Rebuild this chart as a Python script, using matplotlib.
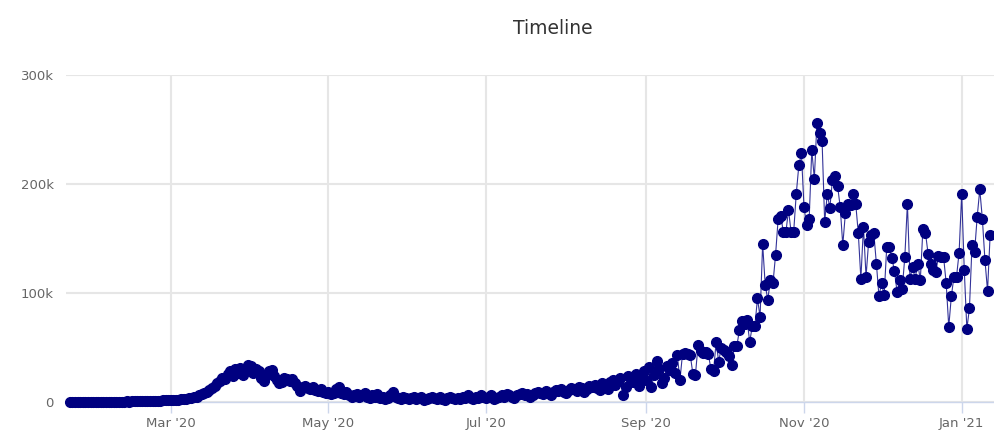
import matplotlib
matplotlib.use("Agg")
import matplotlib.pyplot as plt
import matplotlib.dates as mdates
import matplotlib.ticker as mticker
import numpy as np
import pandas as pd

# daily values in thousands
jan20 = [0.0, 0.0, 0.1, 0.0, 0.1, 0.1, 0.0, 0.1, 0.1, 0.2]
feb20 = [0.1, 0.2, 0.2, 0.1, 0.3, 0.2, 0.3, 0.2, 0.3, 0.4, 0.3, 0.4, 0.5, 0.4, 0.5,
         0.6, 0.5, 0.6, 0.7, 0.6, 0.8, 0.9, 1.0, 1.1, 1.2, 1.3, 1.5, 1.4, 1.6]
mar20 = [1.5, 1.8, 2.0, 2.2, 2.4, 2.8, 3.1, 3.5, 4.0, 4.5, 5, 6, 7, 8, 9, 11, 13, 15,
         17, 19, 22, 21, 26, 28, 24, 30, 27, 31, 25, 29, 34]
apr20 = [33, 27, 30, 28, 22, 19, 25, 28, 29, 24, 20, 17, 18, 22, 21, 19, 21, 17, 15, 10,
         14, 15, 13, 12, 14, 11, 10, 12, 9, 8]
may20 = [9, 7, 8, 12, 14, 8, 7, 9, 6, 5, 6, 7, 5, 6, 8, 5, 4, 6, 5, 7, 4, 5, 3, 4, 6, 9,
         5, 4, 3, 5, 4]
jun20 = [3, 4, 5, 3, 4, 5, 2, 3, 4, 5, 4, 3, 5, 3, 2, 4, 5, 4, 3, 4, 3, 5, 4, 6, 4, 3,
         5, 4, 6, 5]
jul20 = [4, 5, 6, 3, 4, 5, 6, 5, 7, 6, 5, 4, 6, 7, 8, 6, 7, 5, 6, 8, 9, 8, 7, 10, 8, 6,
         9, 11, 10, 12, 9]
aug20 = [8, 11, 13, 12, 10, 14, 13, 9, 12, 15, 14, 16, 13, 11, 17, 15, 12, 18, 20, 16,
         19, 22, 6, 14, 24, 21, 18, 26, 15, 23, 28]
sep20 = [20, 32, 14, 25, 38, 30, 17, 22, 33, 29, 36, 27, 43, 20, 44, 45, 44, 43, 26, 25,
         52, 47, 45, 46, 44, 30, 28, 55, 37, 50]
oct20 = [48, 46, 42, 34, 51, 51, 66, 74, 72, 75, 55, 70, 70, 95, 78, 145, 107, 94, 112,
         109, 135, 168, 171, 156, 156, 176, 156, 156, 191, 217, 228]
nov20 = [179, 162, 168, 231, 205, 256, 247, 239, 165, 191, 178, 204, 207, 198, 179, 144,
         173, 182, 181, 191, 182, 155, 113, 161, 115, 147, 153, 155, 127, 97]
dec20 = [109, 98, 142, 142, 132, 120, 101, 112, 104, 133, 182, 113, 124, 113, 127, 112,
         159, 155, 136, 127, 121, 119, 134, 133, 133, 109, 69, 97, 115, 115, 137]
jan21 = [191, 121, 67, 86, 144, 138, 170, 195, 168, 130, 102, 153]

values = np.array(jan20 + feb20 + mar20 + apr20 + may20 + jun20 + jul20 + aug20
                  + sep20 + oct20 + nov20 + dec20 + jan21) * 1000
dates = pd.date_range("2020-01-22", periods=len(values), freq="D")

tick_dates = pd.to_datetime(["2020-03-01", "2020-05-01", "2020-07-01",
                             "2020-09-01", "2020-11-01", "2021-01-01"])
tick_labels = ["Mar '20", "May '20", "Jul '20", "Sep '20", "Nov '20", "Jan '21"]
y_ticks = [0, 100000, 200000, 300000]

fig = plt.figure(figsize=(9.94, 4.32), dpi=100)
ax = fig.add_axes([66 / 994, 1 - 402 / 432, 928 / 994, 327 / 432])

ax.plot(dates, values, color="#000080", lw=0.8, alpha=0.8, zorder=3)
ax.plot(dates, values, ls="none", marker="o", ms=7, color="#000080", zorder=4,
        clip_on=False)

ax.set_ylim(0, 300000)
ax.set_xlim(dates[0] - pd.Timedelta(days=1.5), dates[-1] + pd.Timedelta(days=1.5))

ax.set_xticks(tick_dates)
ax.set_xticklabels(tick_labels)
ax.set_yticks(y_ticks)
ax.yaxis.set_major_formatter(
    mticker.FuncFormatter(lambda v, p: "0" if v == 0 else f"{int(v / 1000)}k"))

ax.grid(True, color="#e6e6e6", lw=1.5)
ax.set_axisbelow(True)
for s in ["top", "right", "left"]:
    ax.spines[s].set_visible(False)
ax.spines["bottom"].set_color("#ccd6eb")
ax.spines["bottom"].set_linewidth(1.0)
ax.tick_params(axis="x", colors="#ccd6eb", length=8, width=1, pad=3,
               labelcolor="#666666", labelsize=9.5)
ax.tick_params(axis="y", length=0, pad=9, labelcolor="#666666", labelsize=9.5)

fig.text(553 / 994, 1 - 28 / 432, "Timeline", ha="center", va="center",
         fontsize=13.5, color="#333333")

fig.savefig("out.png", dpi=100)
